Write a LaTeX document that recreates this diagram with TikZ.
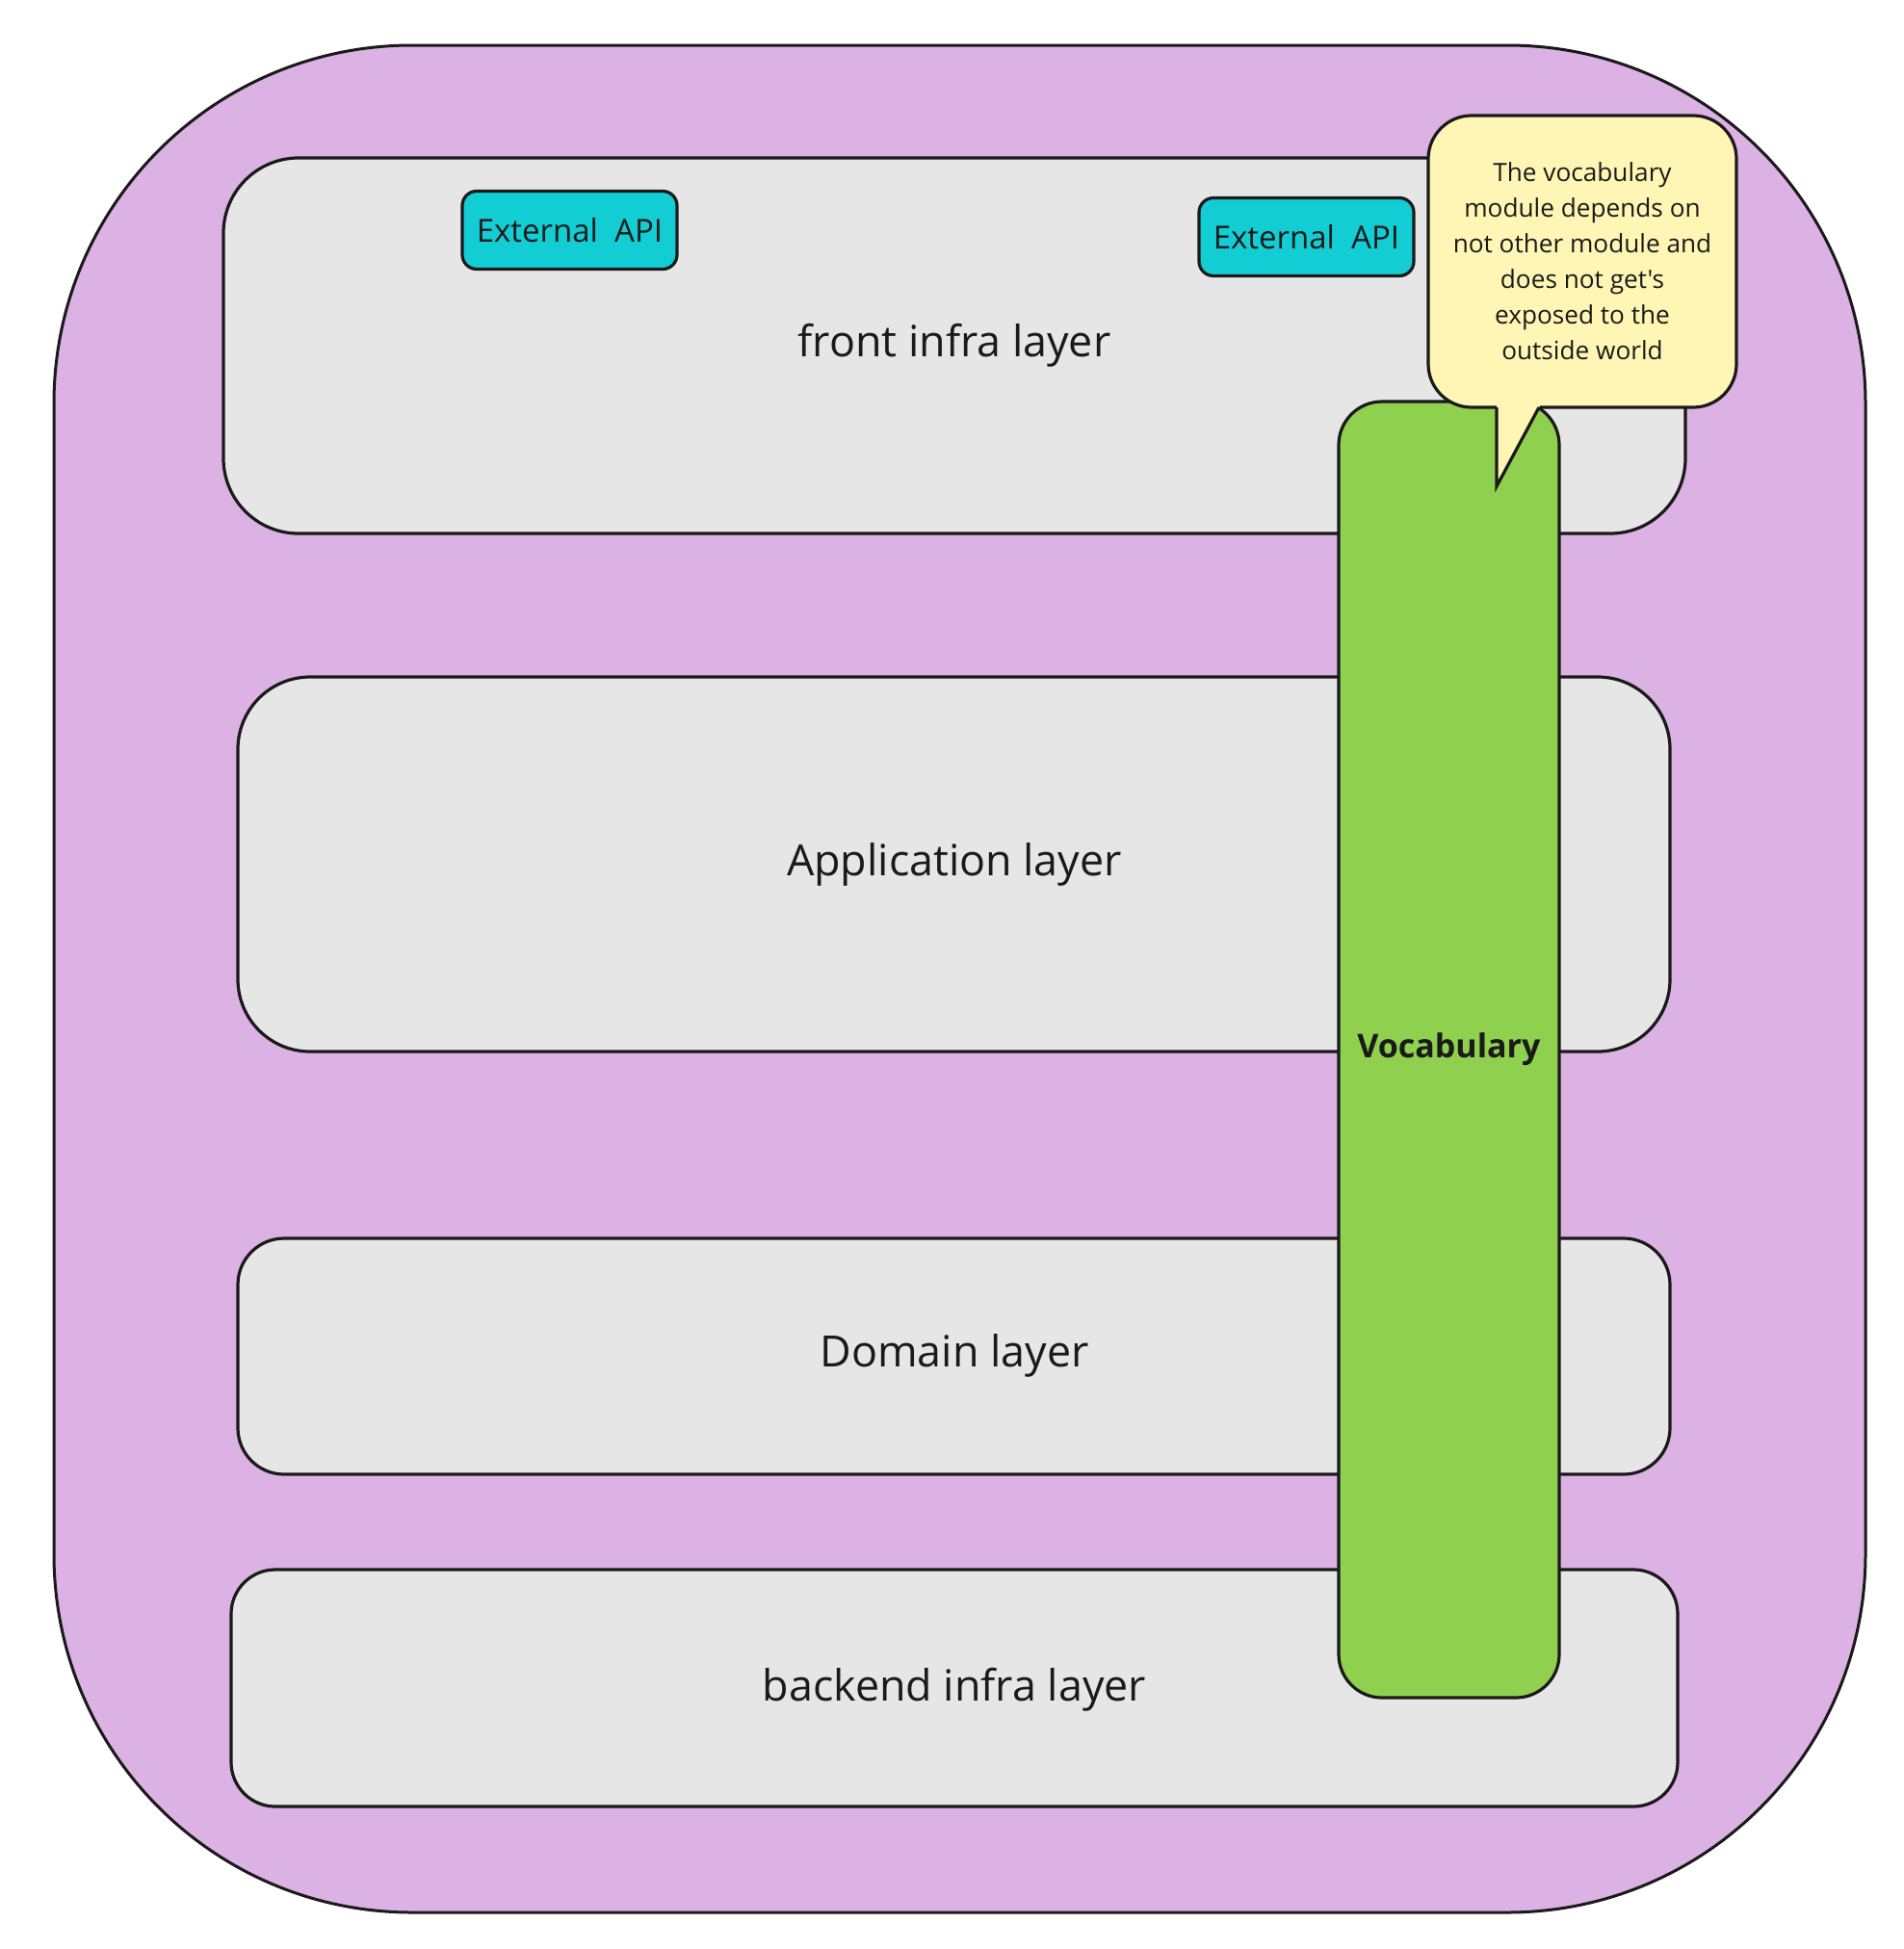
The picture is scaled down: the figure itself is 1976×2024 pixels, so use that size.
\documentclass[tikz,border=0pt]{standalone}
\usepackage{fontspec}
\setmainfont{Open Sans}[Ligatures=TeXOff]
\definecolor{outerfill}{HTML}{DCB1E3}
\definecolor{layerfill}{HTML}{E6E6E6}
\definecolor{apifill}{HTML}{12CDD4}
\definecolor{vocabfill}{HTML}{8FD14F}
\definecolor{notefill}{HTML}{FFF6B5}
\definecolor{ink}{HTML}{1A1A1A}
\begin{document}
\begin{tikzpicture}[x=0.5pt,y=-0.5pt,
  box/.style={draw=ink, line width=1.6pt, inner sep=0pt, text=ink, align=center},
  layer/.style={box, fill=layerfill},
  lbl/.style={text=ink, font=\fontsize{22.4}{27}\selectfont},
  api/.style={box, fill=apifill, rounded corners=7.5pt, minimum width=111.5pt, minimum height=40.5pt, font=\fontsize{16.5}{20}\selectfont},
]
\useasboundingbox (0,0) rectangle (1976,2024);
\node[box, fill=outerfill, rounded corners=186pt, minimum width=940.5pt, minimum height=969.5pt, line width=1.5pt] (outer) at (996.5,1016.5) {};
\node[layer, rounded corners=39pt, minimum width=759pt, minimum height=195pt] (front) at (991,359) {};
\node[layer, rounded corners=37.5pt, minimum width=743.5pt, minimum height=194.5pt] (app) at (990.5,897.5) {};
\node[layer, rounded corners=24pt, minimum width=743.5pt, minimum height=122.5pt] (dom) at (990.5,1408.5) {};
\node[layer, rounded corners=23pt, minimum width=751pt, minimum height=123pt] (back) at (991,1753) {};
\node[lbl] (frontlbl) at (991,359) {front infra layer};
\node[lbl] (applbl) at (991,898) {Application layer};
\node[lbl] (domlbl) at (991,1408) {Domain layer};
\node[lbl] (backlbl) at (991,1755) {backend infra layer};
\node[api] (api1) at (591.5,239) {External\ \ API};
\node[api] (api2) at (1356.5,246) {External\ \ API};
\node[box, fill=vocabfill, rounded corners=22.5pt, minimum width=114.5pt, minimum height=673pt, font=\bfseries\fontsize{17}{20}\selectfont] (vocab) at (1504.5,1090) {Vocabulary};
\node[box, fill=notefill, rounded corners=22.5pt, minimum width=160pt, minimum height=151.5pt, font=\fontsize{13.1}{18.5}\selectfont] (note) at (1643,271.5) {The vocabulary\\module depends on\\not other module and\\does not get's\\exposed to the\\outside world};
\fill[notefill] (1554,417) -- (1554,505) -- (1598,423) -- (1601,417) -- cycle;
\draw[ink, line width=1.6pt, line join=miter] (1554,423) -- (1554,505) -- (1598,423);
\end{tikzpicture}
\end{document}
